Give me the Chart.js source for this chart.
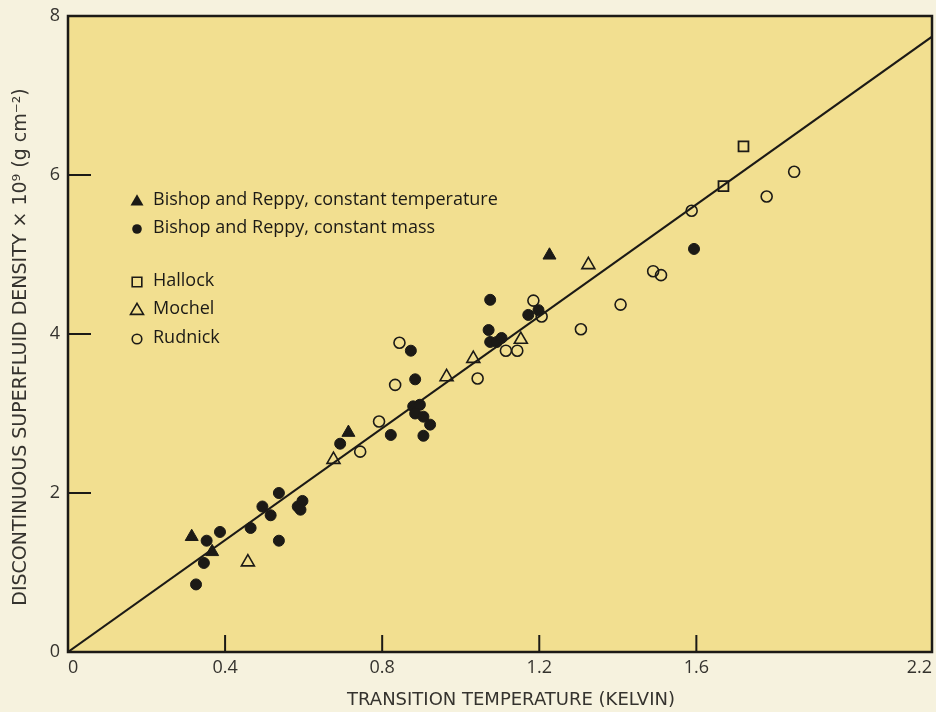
<!DOCTYPE html>
<html>
<head>
<meta charset="utf-8">
<script src="https://cdn.jsdelivr.net/npm/chart.js@4/dist/chart.umd.min.js"></script>
<style>
  html, body { margin: 0; padding: 0; background: #f6f2de; }
  canvas { display: block; }
</style>
</head>
<body>
<canvas id="chart" width="936" height="712"></canvas>
<script>
// Bishop and Reppy, constant temperature (filled triangles)
const constTempX = [0.315, 0.367, 0.714, 1.226];
const constTempY = [1.45, 1.26, 2.76, 4.99];

// Bishop and Reppy, constant mass (filled circles)
const constMassX = [0.326, 0.346, 0.353, 0.387, 0.465, 0.495, 0.516, 0.537, 0.537, 0.585,
  0.597, 0.592, 0.693, 0.822, 0.905, 0.879, 0.896, 0.884, 0.905, 0.922,
  0.884, 0.873, 1.075, 1.071, 1.075, 1.092, 1.104, 1.172, 1.198, 1.594];
const constMassY = [0.85, 1.12, 1.40, 1.51, 1.56, 1.83, 1.72, 2.00, 1.40, 1.83,
  1.90, 1.79, 2.62, 2.73, 2.72, 3.09, 3.11, 3.00, 2.96, 2.86,
  3.43, 3.79, 4.43, 4.05, 3.90, 3.90, 3.95, 4.24, 4.30, 5.07];

// Hallock (open squares)
const hallockX = [1.669, 1.720];
const hallockY = [5.86, 6.36];

// Mochel (open triangles)
const mochelX = [0.458, 0.676, 0.964, 1.032, 1.153, 1.325];
const mochelY = [1.13, 2.42, 3.46, 3.69, 3.93, 4.87];

// Rudnick (open circles)
const rudnickX = [0.744, 0.792, 0.844, 0.833, 1.043, 1.115, 1.144, 1.185, 1.206, 1.306,
  1.407, 1.490, 1.510, 1.588, 1.779, 1.849];
const rudnickY = [2.52, 2.90, 3.89, 3.36, 3.44, 3.79, 3.79, 4.42, 4.22, 4.06,
  4.37, 4.79, 4.74, 5.55, 5.73, 6.04];

// straight line through the origin
const fitX = [0, 2.2];
const fitY = [0, 7.74];

const xTicks = [0, 0.4, 0.8, 1.2, 1.6, 2.2];
const yTicks = [0, 2, 4, 6, 8];

const xTitle = 'TRANSITION TEMPERATURE (KELVIN)';
const yTitle = 'DISCONTINUOUS SUPERFLUID DENSITY × 10⁹ (g cm⁻²)';

const legendItems = [
  { label: 'Bishop and Reppy, constant temperature', shape: 'triangle', filled: true },
  { label: 'Bishop and Reppy, constant mass', shape: 'circle', filled: true },
  { label: 'Hallock', shape: 'rect', filled: false },
  { label: 'Mochel', shape: 'triangle', filled: false },
  { label: 'Rudnick', shape: 'circle', filled: false }
];

const INK = '#1c1a16';
const TEXT = '#35332e';
const PLOT_BG = '#f2df90';
const FONT = '"Open Sans", "DejaVu Sans", sans-serif';
const TITLE_FONT = '"DejaVu Sans", sans-serif';

const pts = (xs, ys) => xs.map((x, i) => ({ x: x, y: ys[i] }));

function drawShape(ctx, shape, filled, cx, cy, r) {
  ctx.beginPath();
  if (shape === 'circle') {
    ctx.arc(cx, cy, r, 0, Math.PI * 2);
  } else if (shape === 'triangle') {
    const h = r * 1.7;
    ctx.moveTo(cx, cy - h * 0.6);
    ctx.lineTo(cx + r, cy + h * 0.4);
    ctx.lineTo(cx - r, cy + h * 0.4);
    ctx.closePath();
  } else {
    ctx.rect(cx - r, cy - r, r * 2, r * 2);
  }
  if (filled) {
    ctx.fillStyle = INK;
    ctx.fill();
  } else {
    ctx.lineWidth = 1.6;
    ctx.strokeStyle = INK;
    ctx.stroke();
  }
}

const framePlugin = {
  id: 'frame',
  beforeDraw(chart) {
    const { ctx, chartArea: a } = chart;
    ctx.save();
    ctx.fillStyle = PLOT_BG;
    ctx.fillRect(a.left, a.top, a.right - a.left, a.bottom - a.top);
    ctx.restore();
  },
  afterDraw(chart) {
    const { ctx, chartArea: a, scales } = chart;
    ctx.save();
    ctx.strokeStyle = INK;
    ctx.lineWidth = 2.5;
    ctx.strokeRect(a.left, a.top, a.right - a.left, a.bottom - a.top);

    // tick marks point inward
    ctx.lineWidth = 2;
    ctx.beginPath();
    xTicks.slice(1, -1).forEach(v => {
      const px = scales.x.getPixelForValue(v);
      ctx.moveTo(px, a.bottom);
      ctx.lineTo(px, a.bottom - 17);
    });
    yTicks.slice(1, -1).forEach(v => {
      const py = scales.y.getPixelForValue(v);
      ctx.moveTo(a.left, py);
      ctx.lineTo(a.left + 23, py);
    });
    ctx.stroke();

    // axis titles (sit a little off-centre in the original)
    ctx.fillStyle = TEXT;
    ctx.textAlign = 'center';
    ctx.textBaseline = 'middle';
    ctx.font = '18px ' + TITLE_FONT;
    ctx.fillText(xTitle, (a.left + a.right) / 2 + 11, 700);
    ctx.save();
    ctx.translate(21, (a.top + a.bottom) / 2 + 13);
    ctx.rotate(-Math.PI / 2);
    ctx.font = '19px ' + TITLE_FONT;
    ctx.fillText(yTitle, 0, 0);
    ctx.restore();

    // legend inside the plot
    ctx.font = '18px ' + FONT;
    ctx.textAlign = 'left';
    ctx.textBaseline = 'middle';
    const rows = [200, 228, 281, 309, 338];
    legendItems.forEach((item, i) => {
      const y = rows[i];
      const r = item.shape === 'triangle' ? 6.5 : 4.8;
      drawShape(ctx, item.shape, item.filled, 137, y + 1, r);
      ctx.fillStyle = INK;
      ctx.fillText(item.label, 153, y);
    });
    ctx.restore();
  }
};

new Chart(document.getElementById('chart'), {
  type: 'scatter',
  data: {
    datasets: [
      {
        type: 'line',
        label: 'fit',
        data: pts(fitX, fitY),
        borderColor: INK,
        borderWidth: 2,
        pointRadius: 0,
        fill: false
      },
      {
        label: 'Bishop and Reppy, constant temperature',
        data: pts(constTempX, constTempY),
        pointStyle: 'triangle',
        pointRadius: 7.5,
        backgroundColor: INK,
        borderColor: INK,
        borderWidth: 1
      },
      {
        label: 'Bishop and Reppy, constant mass',
        data: pts(constMassX, constMassY),
        pointStyle: 'circle',
        pointRadius: 5.5,
        backgroundColor: INK,
        borderColor: INK,
        borderWidth: 1
      },
      {
        label: 'Hallock',
        data: pts(hallockX, hallockY),
        pointStyle: 'rect',
        pointRadius: 7,
        backgroundColor: 'rgba(0,0,0,0)',
        borderColor: INK,
        borderWidth: 1.8
      },
      {
        label: 'Mochel',
        data: pts(mochelX, mochelY),
        pointStyle: 'triangle',
        pointRadius: 7.5,
        backgroundColor: 'rgba(0,0,0,0)',
        borderColor: INK,
        borderWidth: 1.6
      },
      {
        label: 'Rudnick',
        data: pts(rudnickX, rudnickY),
        pointStyle: 'circle',
        pointRadius: 5.5,
        backgroundColor: 'rgba(0,0,0,0)',
        borderColor: INK,
        borderWidth: 1.6
      }
    ]
  },
  options: {
    responsive: false,
    animation: false,
    layout: { autoPadding: false, padding: { top: 16, right: 4, left: 0, bottom: 0 } },
    plugins: {
      legend: { display: false },
      tooltip: { enabled: false }
    },
    scales: {
      x: {
        type: 'linear',
        min: 0,
        max: 2.2,
        afterBuildTicks: scale => { scale.ticks = xTicks.map(v => ({ value: v })); },
        afterFit: scale => { scale.height = 60; scale.paddingLeft = 0; scale.paddingRight = 0; },
        grid: { display: false, drawTicks: false },
        border: { display: false },
        ticks: {
          align: 'inner',
          padding: 5,
          color: TEXT,
          font: { family: FONT, size: 18 },
          callback: v => (v === 0 ? '0' : v.toFixed(1))
        },
        title: { display: false }
      },
      y: {
        type: 'linear',
        min: 0,
        max: 8,
        afterBuildTicks: scale => { scale.ticks = yTicks.map(v => ({ value: v })); },
        afterFit: scale => { scale.width = 68; scale.paddingTop = 0; scale.paddingBottom = 0; },
        grid: { display: false, drawTicks: false },
        border: { display: false },
        ticks: {
          padding: 8,
          color: TEXT,
          font: { family: FONT, size: 18 },
          callback: v => String(v)
        },
        title: { display: false }
      }
    }
  },
  plugins: [framePlugin]
});
</script>
</body>
</html>
